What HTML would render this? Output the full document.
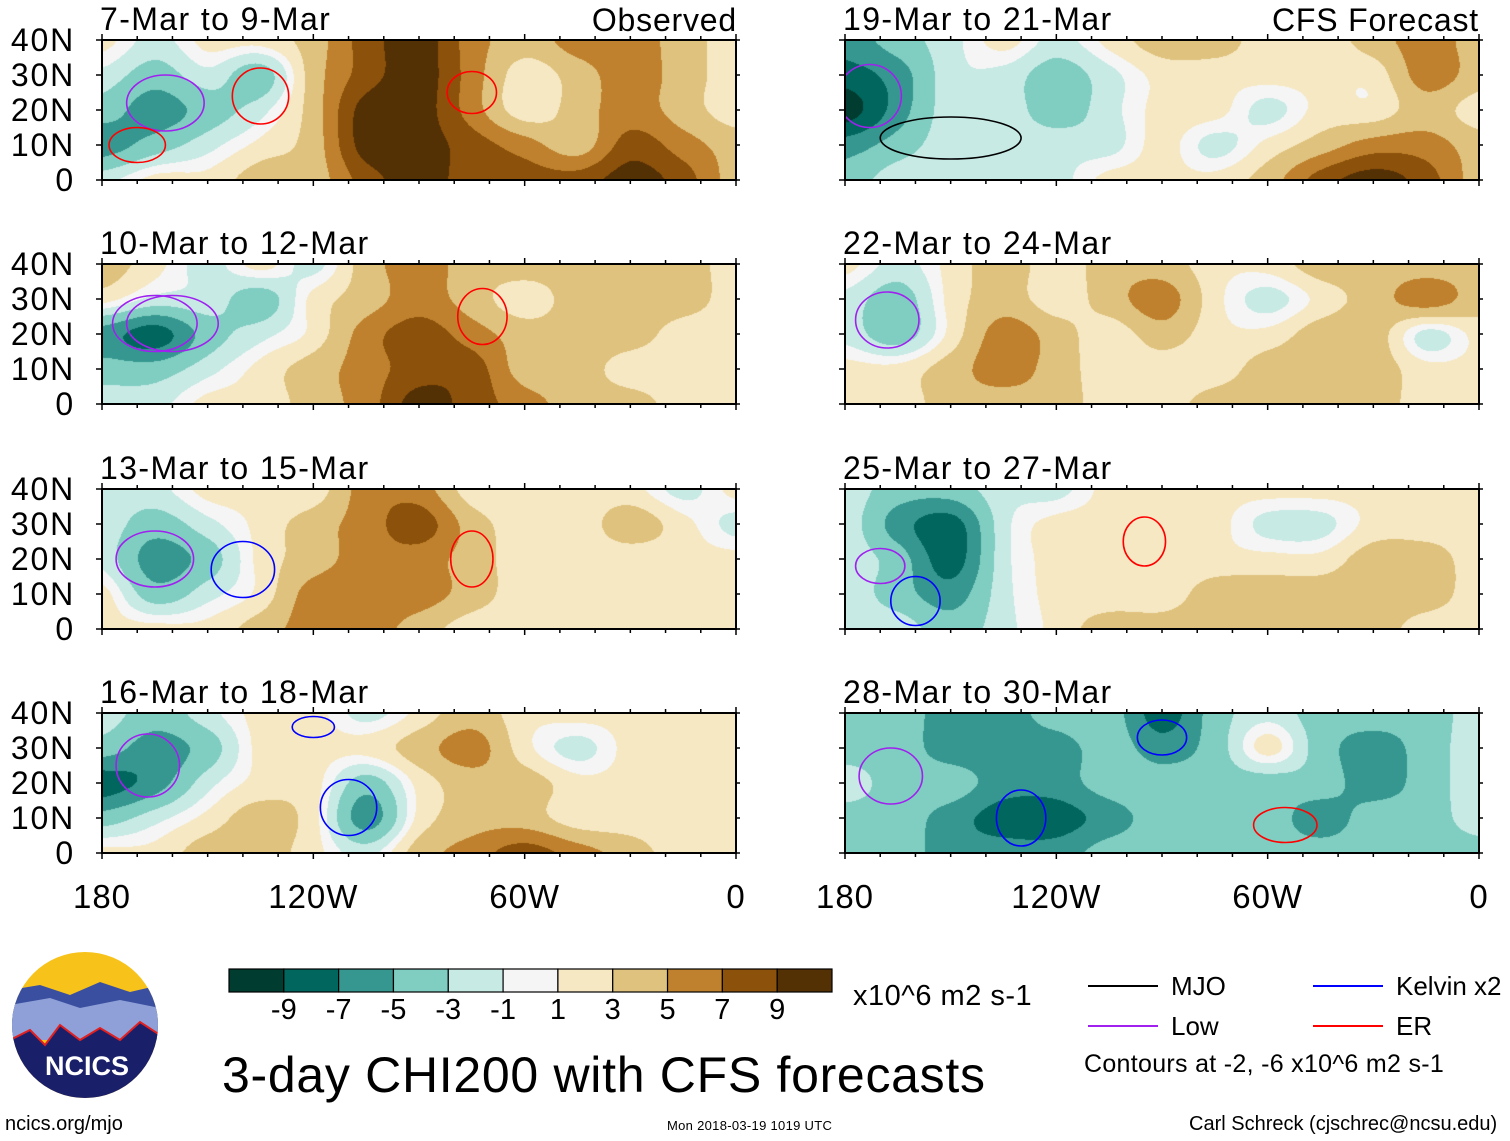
<!DOCTYPE html>
<html><head><meta charset="utf-8">
<style>
html,body{margin:0;padding:0;background:#fff;}
body{width:1510px;height:1141px;position:relative;overflow:hidden;font-family:"Liberation Sans",sans-serif;color:#000;}
.t{position:absolute;white-space:nowrap;line-height:1;}
canvas{position:absolute;}
svg{position:absolute;left:0;top:0;}
</style></head><body>
<div id="root"></div>
<svg id="ov" width="1510" height="1141"></svg>
<script>
// ---- data ----
const lonNodes=[180,165,150,135,120,105,90,75,60,45,30,15,0]; // degrees W
const latNodes=[40,30,20,10,0];
const panelTitles=["7-Mar to 9-Mar","10-Mar to 12-Mar","13-Mar to 15-Mar","16-Mar to 18-Mar","19-Mar to 21-Mar","22-Mar to 24-Mar","25-Mar to 27-Mar","28-Mar to 30-Mar"];
const field1=[[1,-1,1,1,3,7,9,5,3,5,5,3,1],[-1,-3,-1,-3,3,7,9,5,1,3,5,3,1],[-3,-5,-3,-1,3,9,9,5,1,3,5,3,1],[-5,-3,-1,1,3,9,9,7,5,3,7,5,3],[-1,1,1,3,3,7,9,7,7,7,9,7,3]];
const field2=[[3,1,-1,1,-1,3,5,3,3,3,3,3,1],[1,-1,-1,-3,1,3,5,3,1,3,3,3,1],[-5,-7,-3,-1,1,5,7,5,3,3,3,1,1],[-3,-3,-1,1,3,5,7,7,3,3,1,1,1],[-1,-1,1,1,3,5,9,7,5,3,3,1,1]];
const field3=[[-1,-1,1,1,1,5,5,1,1,1,1,-1,1],[-1,-3,-1,1,3,5,7,3,1,1,3,1,-1],[-1,-5,-3,1,3,5,5,3,1,1,1,1,1],[1,-3,-1,1,5,5,5,3,1,1,1,1,1],[1,1,1,3,5,5,3,1,1,1,1,1,1]];
const field4=[[-1,-3,-1,1,1,-1,1,3,1,1,1,1,1],[-3,-5,-3,1,1,1,3,5,1,-1,1,1,1],[-7,-5,-1,1,1,-3,1,3,3,1,1,1,1],[-3,-1,1,3,1,-5,1,3,3,1,1,1,1],[1,1,3,3,1,-1,3,5,7,5,3,1,1]];
const field5=[[-5,-3,-1,1,-1,1,3,3,1,1,3,5,3],[-7,-5,-1,-1,-3,-1,1,1,1,1,1,5,3],[-9,-5,-1,-1,-3,-1,1,1,-1,1,1,3,1],[-5,-3,-1,-1,-1,-1,1,-1,1,3,5,5,3],[-3,-1,-1,-1,-1,1,1,1,3,7,9,7,3]];
const field6=[[1,-1,1,3,1,3,3,1,1,3,3,3,3],[-1,-3,1,3,1,3,5,1,-1,1,3,5,3],[-1,-3,1,5,3,1,3,1,1,3,3,-1,1],[1,1,3,5,3,1,1,1,3,3,3,1,1],[1,1,3,3,3,1,1,3,3,3,3,1,1]];
const field7=[[-1,-3,-3,-1,-1,1,1,1,1,1,1,1,1],[-1,-5,-7,-1,1,1,1,1,-1,-1,1,1,1],[-1,-3,-7,-1,1,1,1,1,1,1,3,3,1],[-1,-3,-5,-1,1,1,1,3,3,3,3,3,1],[-1,-1,-3,-1,1,3,3,3,3,3,3,1,1]];
const field8=[[-3,-3,-5,-5,-3,-3,-7,-3,-1,-3,-3,-3,-1],[-3,-3,-5,-5,-5,-3,-5,-3,1,-3,-5,-3,-1],[-1,-3,-3,-5,-5,-3,-3,-3,-3,-3,-5,-3,-1],[-3,-3,-5,-7,-7,-5,-3,-3,-3,-5,-3,-3,-1],[-3,-3,-5,-5,-5,-3,-3,-3,-3,-3,-3,-3,-3]];
const fields=[field1,field2,field3,field4,field5,field6,field7,field8];
// contours: [panel, lonW, lat, rxDeg, ryDeg, type]
const contourPanel=[0,0,0,0,1,1,1,2,2,2,3,3,3,4,4,5,6,6,6,7,7,7,7];
const contourLon=[162,135,75,170,160,165,72,165,140,75,167,120,110,173,150,168,170,160,95,167,130,90,55];
const contourLat=[22,24,25,10,23,23,25,20,17,20,25,36,13,24,12,24,18,8,25,22,10,33,8];
const contourRx=[11,8,7,8,13,12,7,11,9,6,9,6,8,9,20,9,7,7,6,9,7,7,9];
const contourRy=[8,8,6,5,8,8,8,8,8,8,9,3,8,9,6,8,5,7,7,8,8,5,5];
const contourType=["low","er","er","er","low","low","er","low","kelvin","er","low","kelvin","kelvin","low","mjo","low","low","kelvin","er","low","kelvin","kelvin","er"];
const cbLabels=["-9","-7","-5","-3","-1","1","3","5","7","9"];
const lonTicks=["180","120W","60W","0"];
const latTicks=["40N","30N","20N","10N","0"];
// ---- layout ----
const colors=["#003c30","#01665e","#35978f","#80cdc1","#c7eae5","#f5f5f5","#f6e8c3","#dfc27d","#bf812d","#8c510a","#543005"];
const colX=[102,845], rowY=[40,264,489,713], PW=634, PH=140;
const ctype={mjo:"#000",low:"#a020f0",kelvin:"#0000ff",er:"#ff0000"};
const root=document.getElementById('root'), ov=document.getElementById('ov');
const NS="http://www.w3.org/2000/svg";
function bin(v){const a=Math.abs(v);const k=a<0.5?0:a<2?1:a<4?2:a<6?3:a<8?4:5;return v<0?5-k:5+k;}
function hex(c){return [parseInt(c.slice(1,3),16),parseInt(c.slice(3,5),16),parseInt(c.slice(5,7),16)];}
const rgb=colors.map(hex);
function xOf(lon,x0){return x0+(180-lon)/180*PW;}
function yOf(lat,y0){return y0+(40-lat)/40*PH;}
function cr(p0,p1,p2,p3,t){return 0.5*((2*p1)+(-p0+p2)*t+(2*p0-5*p1+4*p2-p3)*t*t+(-p0+3*p1-3*p2+p3)*t*t*t);}
function sample(f,lon,lat){
  let fx=(180-lon)/15, fy=(40-lat)/10;
  let i=Math.min(11,Math.floor(fx)), j=Math.min(3,Math.floor(fy));
  let u=fx-i, v=fy-j;
  const row=r=>{r=Math.max(0,Math.min(4,r));const R=f[r];const g=c=>R[Math.max(0,Math.min(12,c))];return cr(g(i-1),g(i),g(i+1),g(i+2),u);};
  return cr(row(j-1),row(j),row(j+1),row(j+2),v);
}
function txt(s,x,y,size,name,anchor,ls){
  const d=document.createElement('div');d.className='t';d.textContent=s;
  d.style.fontSize=size+'px';d.style.top=y+'px';
  if(ls)d.style.letterSpacing=ls+'px';
  if(anchor==='r'){d.style.right=(1510-x)+'px';}else if(anchor==='c'){d.style.left=x+'px';d.style.transform='translateX(-50%)';}else d.style.left=x+'px';
  
  
  root.appendChild(d);return d;
}
function el(tag,attrs,parent){const e=document.createElementNS(NS,tag);for(const k in attrs)e.setAttribute(k,attrs[k]);(parent||ov).appendChild(e);return e;}
fields.forEach((f,p)=>{
  const col=p<4?0:1,row=p%4,x0=colX[col],y0=rowY[row];
  const cv=document.createElement('canvas');cv.width=PW;cv.height=PH;cv.style.left=x0+'px';cv.style.top=y0+'px';
  
  
  root.appendChild(cv);
  const ctx=cv.getContext('2d'),img=ctx.createImageData(PW,PH);
  for(let y=0;y<PH;y++)for(let x=0;x<PW;x++){
    const lon=180-x/PW*180,lat=40-y/PH*40;const c=rgb[bin(sample(f,lon,lat))];
    const o=(y*PW+x)*4;img.data[o]=c[0];img.data[o+1]=c[1];img.data[o+2]=c[2];img.data[o+3]=255;}
  ctx.putImageData(img,0,0);
  const g=el('g',{});
  
  
  const cp=el('clipPath',{id:'cl'+p},g);el('rect',{x:x0,y:y0,width:PW,height:PH},cp);
  contourPanel.forEach((c,k)=>{ if(c!==p)return;
    const e=el('ellipse',{cx:xOf(contourLon[k],x0),cy:yOf(contourLat[k],y0),rx:contourRx[k]/180*PW,ry:contourRy[k]/40*PH,fill:'none',stroke:ctype[contourType[k]],'stroke-width':1.6,'clip-path':'url(#cl'+p+')'},g);
    
    
  });
  const fr=el('rect',{x:x0,y:y0,width:PW,height:PH,fill:'none',stroke:'#000','stroke-width':2},g);
  
  
  for(let lon=180;lon>=0;lon-=10){const x=xOf(lon,x0);const L=lon%60===0?6:4;
    el('line',{x1:x,x2:x,y1:y0-L,y2:y0,stroke:'#000','stroke-width':1.5},g);
    el('line',{x1:x,x2:x,y1:y0+PH,y2:y0+PH+L,stroke:'#000','stroke-width':1.5},g);}
  for(let lat=0;lat<=40;lat+=10){const y=yOf(lat,y0);
    el('line',{x1:x0-6,x2:x0,y1:y,y2:y,stroke:'#000','stroke-width':1.5},g);
    el('line',{x1:x0+PW,x2:x0+PW+4,y1:y,y2:y,stroke:'#000','stroke-width':1.5},g);}
  txt(panelTitles[p],x0-2,y0-37,32,'panel-title-'+(p+1),null,1.4);
  if(col===0) latTicks.forEach((s,k)=>txt(s,75,yOf(latNodes[k],y0)-16,32,'lat-label','r',1.8));
});
txt("Observed",737,4,32,'observed-label','r',0.8);
txt("CFS Forecast",1479,4,32,'cfs-forecast-label','r',0.8);
colX.forEach(x0=>lonTicks.forEach((s,k)=>txt(s,x0+k*PW/3,880,33,'lon-label','c',1)));
// colorbar
const cbx=229,cby=969,cbw=603/11;
colors.forEach((c,i)=>{const r=el('rect',{x:cbx+i*cbw,y:cby,width:cbw,height:23,fill:c,stroke:'#000','stroke-width':1.2});
  
  });
cbLabels.forEach((s,i)=>txt(s,cbx+(i+1)*cbw,996,29,'colorbar-label','c'));
txt("x10^6 m2 s-1",853,982,29,'colorbar-units',null,0.5);
txt("3-day CHI200 with CFS forecasts",222,1050,50,'main-title',null,0.7);
// legend
[["MJO",1088,986,'mjo'],["Low",1088,1026,'low'],["Kelvin x2",1313,986,'kelvin'],["ER",1313,1026,'er']].forEach(a=>{
  const l=el('line',{x1:a[1],x2:a[1]+70,y1:a[2],y2:a[2],stroke:ctype[a[3]],'stroke-width':2});
  
  
  txt(a[0],a[1]+83,a[2]-13,26,'legend-entry-'+a[3]);});
txt("Contours at -2, -6 x10^6 m2 s-1",1084,1052,25,'contour-note',null,0.3);
txt("ncics.org/mjo",5,1114,20,'site-url');
txt("Mon 2018-03-19 1019 UTC",667,1119,13,'timestamp',null,0.3);
txt("Carl Schreck (cjschrec@ncsu.edu)",1189,1114,20,'author');
// logo
const lg=el('g',{});
const lc=el('clipPath',{id:'lgc'},lg);el('circle',{cx:85,cy:1025,r:73},lc);
const lg2=el('g',{'clip-path':'url(#lgc)'},lg);
el('rect',{x:10,y:950,width:150,height:150,fill:'#f7c21a'},lg2);
el('path',{d:'M10 990 L40 985 L70 995 L100 982 L130 992 L160 985 L160 1040 L10 1040Z',fill:'#3a4fa0'},lg2);
el('path',{d:'M10 1005 L50 998 L80 1008 L120 1000 L160 1008 L160 1040 L10 1040Z',fill:'#8fa0d8'},lg2);
el('path',{d:'M10 1040 L30 1030 L45 1045 L60 1025 L80 1040 L100 1028 L120 1040 L140 1022 L160 1035 L160 1100 L10 1100Z',fill:'#1a1f6a',stroke:'#e02020','stroke-width':2},lg2);
const lt=el('text',{x:87,y:1075,'text-anchor':'middle','font-size':27,'font-weight':'bold',fill:'#fff','font-family':'Liberation Sans, sans-serif'},lg);lt.textContent='NCICS';
</script>
</body></html>
